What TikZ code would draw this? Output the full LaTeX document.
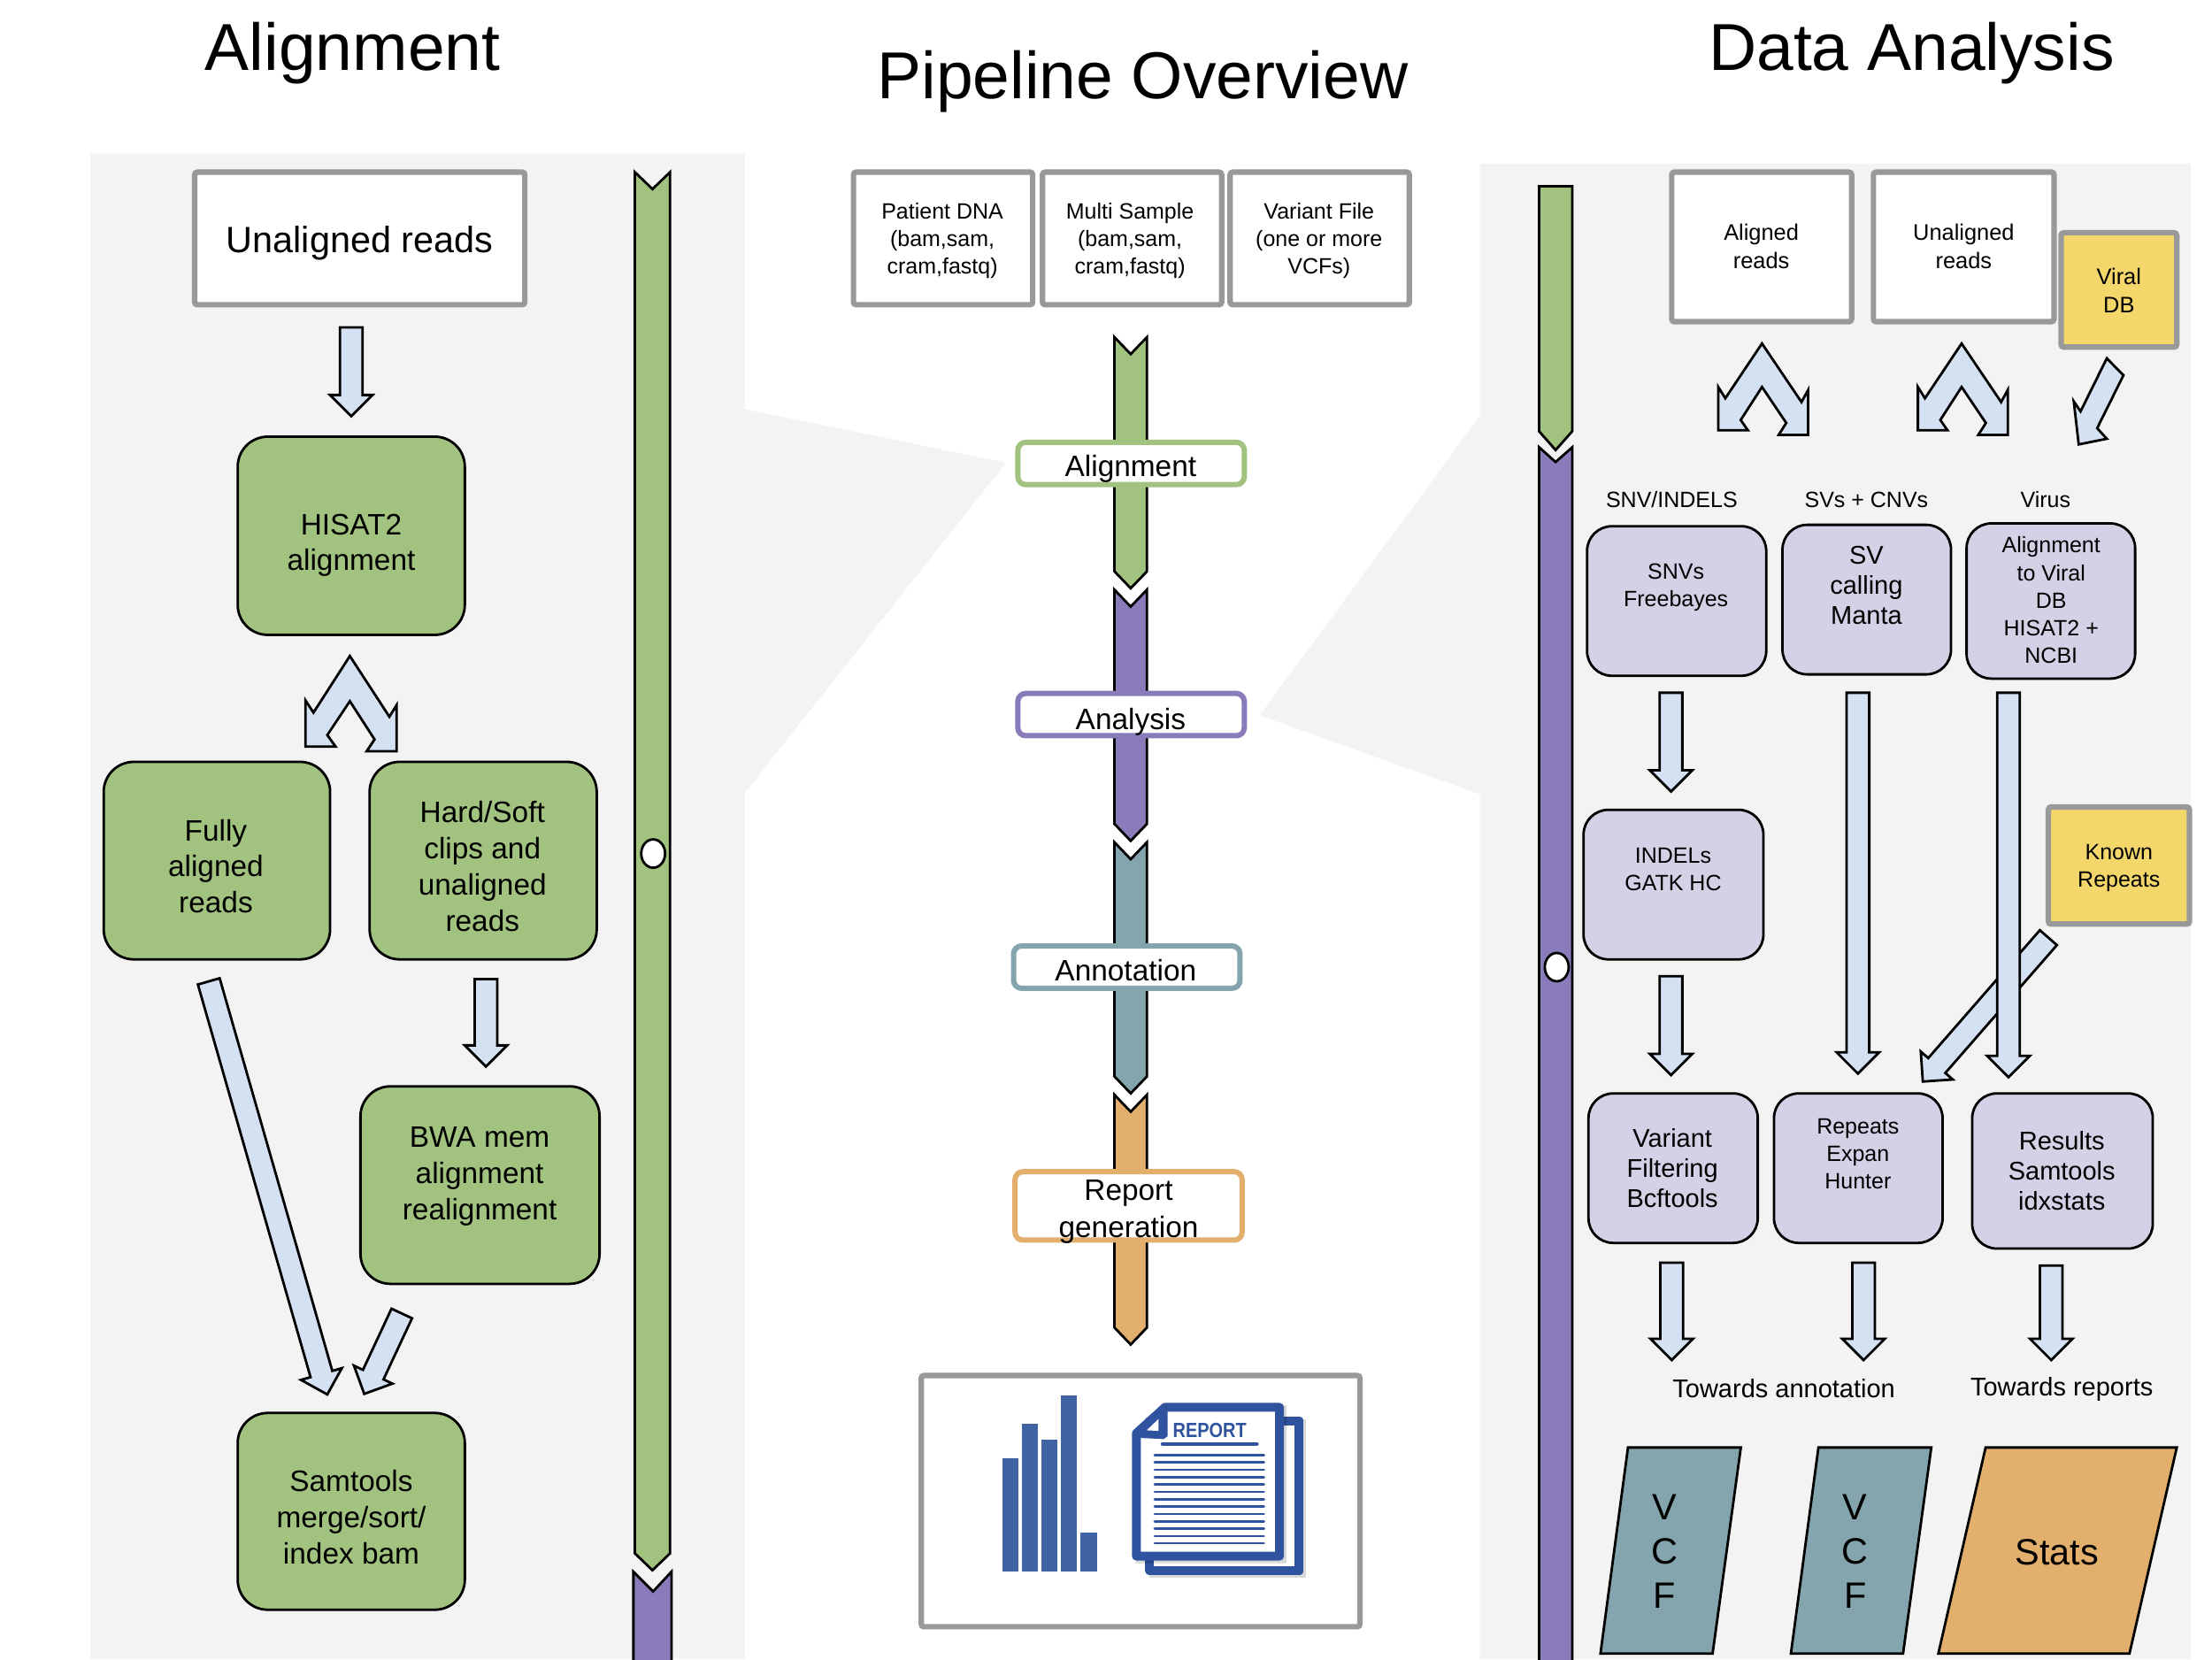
\documentclass[tikz,border=0pt]{standalone}
\usepackage{fontspec}
\usepackage{graphicx}
\setmainfont{Liberation Sans}
\usetikzlibrary{calc,shapes.geometric}
\definecolor{panelbg}{HTML}{F3F3F3}
\definecolor{cgreen}{HTML}{A2C37F}
\definecolor{cpurple}{HTML}{8A7CBB}
\definecolor{cteal}{HTML}{84A5AD}
\definecolor{corange}{HTML}{E3AF6D}
\definecolor{clilac}{HTML}{D5D0E6}
\definecolor{cblue}{HTML}{D4E1F3}
\definecolor{cyellow}{HTML}{F4D76B}
\definecolor{cgray}{HTML}{999999}
\definecolor{barblue}{HTML}{4063A3}
\definecolor{repblue}{HTML}{2F539E}
\tikzset{
  fbig/.style={font=\fontsize{20.7pt}{25pt}\selectfont},
  fmid/.style={font=\fontsize{16.7pt}{20.4pt}\selectfont},
  fsmall/.style={font=\fontsize{12.5pt}{15.6pt}\selectfont},
  fcap/.style={font=\fontsize{12.7pt}{16pt}\selectfont},
  fmed/.style={font=\fontsize{14.5pt}{17.1pt}\selectfont},
  fvcf/.style={font=\fontsize{20.7pt}{25pt}\selectfont},
  ftitle/.style={font=\fontsize{37.5pt}{45pt}\selectfont},
  txt/.style={inner sep=0pt,outer sep=0pt,align=center,text=black},
  shapebase/.style={rectangle,inner sep=0pt,outer sep=0pt},
  graybox/.style={shapebase,draw=cgray,line width=3.1pt,fill=white,rounded corners=1.5pt},
  yellowbox/.style={shapebase,draw=cgray,line width=3.1pt,fill=cyellow,rounded corners=1.5pt},
  greenbox/.style={shapebase,draw=black,line width=1.4pt,fill=cgreen,rounded corners=17pt},
  lilacbox/.style={shapebase,draw=black,line width=1.4pt,fill=clilac,rounded corners=14pt},
  labelbox/.style={shapebase,line width=3pt,fill=white,rounded corners=4.5pt},
  blockar/.style={draw=black,line width=1.4pt,fill=cblue,line join=miter},
  stripe/.style={draw=black,line width=1.4pt,line join=miter},
  para/.style={draw=black,line width=1.4pt,line join=miter},
}
% style, name, x1, y1, x2, y2, (text position), font style, text
\newcommand\bx[9]{%
  \pgfmathsetmacro\bxcx{(#3+#5)/2}%
  \pgfmathsetmacro\bxcy{(#4+#6)/2}%
  \pgfmathsetmacro\bxw{(#5-#3)*0.79719}%
  \pgfmathsetmacro\bxh{(#6-#4)*0.79719}%
  \node[#1,minimum width=\bxw pt,minimum height=\bxh pt] (#2) at (\bxcx,\bxcy) {};
  \node[txt,#8] (#2t) at #7 {#9};
}
\newcommand\blockarrow[2]{%
  \coordinate (ba) at ($(#2)!12pt!(#1)$);
  \draw[blockar] ($(#1)!6.4pt!90:(#2)$) -- ($(ba)!6.4pt!90:(#2)$) -- ($(ba)!12pt!90:(#2)$)
    -- (#2) -- ($(ba)!12pt!-90:(#2)$) -- ($(ba)!6.4pt!-90:(#2)$) -- ($(#1)!6.4pt!-90:(#2)$) -- cycle;
}
\newcommand\rightsplit[1]{%
  \draw[blockar,shift={(#1,0)}] (1249,243.5) -- (1277,285) -- (1281.7,276.4) -- (1281.7,308.3) -- (1260.8,308.3)
    -- (1266.2,299.8) -- (1249,274.3) -- (1233.9,297.7) -- (1239,305) -- (1218,305) -- (1218,274.3) -- (1223,282.3) -- cycle;
}
\begin{document}
\begin{tikzpicture}[x=0.79719pt,y=-0.79719pt]
\useasboundingbox (0,0) rectangle (1568,1176);
\fill[white] (0,0) rectangle (1568,1176);
% panels with wedges
\fill[panelbg] (64,109) -- (528,109) -- (528,290) -- (713,328) -- (528,562) -- (528,1176) -- (64,1176) -- cycle;
\fill[panelbg] (1049,116) -- (1553,116) -- (1553,1176) -- (1049,1176) -- (1049,563) -- (893,507) -- (1049,295) -- cycle;
% titles
\node[txt,ftitle] (t1) at (250,38) {Alignment};
\node[txt,ftitle] (t2) at (810,58) {Pipeline Overview};
\node[txt,ftitle] (t3) at (1355,38) {Data Analysis};

% ---- left column
\draw[stripe,fill=cgreen] (450,122) -- (462.5,134) -- (475,122) -- (475,1101) -- (462.5,1113) -- (450,1101) -- cycle;
\draw[stripe,fill=cpurple] (449,1114) -- (463,1128) -- (476,1114) -- (476,1180) -- (449,1180) -- cycle;
\node[ellipse,inner sep=0pt,outer sep=0pt,draw=black,line width=1.4pt,fill=white,minimum width=13.5pt,minimum height=16pt] (ldot) at (463,605) {};

\bx{graybox}{lunal}{138}{122}{372}{216}{(255,172.5)}{fbig}{Unaligned reads}
\bx{greenbox}{hisat}{168.5}{309.5}{329.5}{450}{(249,386.5)}{fmid}{HISAT2\\alignment}
\bx{greenbox}{fully}{73.5}{540}{234}{680}{(153,614)}{fmid}{Fully\\aligned\\reads}
\bx{greenbox}{hard}{262}{540}{423}{680}{(342,614)}{fmid}{Hard/Soft\\clips and\\unaligned\\reads}
\bx{greenbox}{bwa}{255.5}{770}{425}{910}{(340,834)}{fmid}{BWA mem\\alignment\\realignment}
\bx{greenbox}{samt}{168.5}{1001.5}{329.5}{1141}{(249,1075.5)}{fmid}{Samtools\\merge/sort/\\index bam}

\coordinate (a1s) at (249,232); \coordinate (a1e) at (249,295);
\blockarrow{a1s}{a1e}
\draw[blockar] (248,465) -- (276,508) -- (281.2,499.7) -- (281.2,532.5) -- (259.9,532.5) -- (265.5,524.1) -- (248,497)
  -- (232,521) -- (237.9,529.2) -- (216.6,529.2) -- (216.6,496.5) -- (222.2,505.1) -- cycle;
\coordinate (a2s) at (344.5,694); \coordinate (a2e) at (344.5,756);
\blockarrow{a2s}{a2e}
\coordinate (a3s) at (148,695.6); \coordinate (a3e) at (232,988.4);
\blockarrow{a3s}{a3e}
\coordinate (a4s) at (284.8,931); \coordinate (a4e) at (258.2,988);
\blockarrow{a4s}{a4e}

% ---- centre column
\bx{graybox}{cp}{605}{122}{732}{216}{(668,170.5)}{fsmall}{Patient DNA\\(bam,sam,\\cram,fastq)}
\bx{graybox}{cm}{739}{122}{866}{216}{(801,170.5)}{fsmall}{Multi Sample\\(bam,sam,\\cram,fastq)}
\bx{graybox}{cv}{872}{122}{999}{216}{(935,170.5)}{fsmall}{Variant File\\(one or more\\VCFs)}

\draw[stripe,fill=cgreen] (790,239) -- (801.5,251) -- (813,239) -- (813,405) -- (801.5,417) -- (790,405) -- cycle;
\draw[stripe,fill=cpurple] (790,418) -- (801.5,430) -- (813,418) -- (813,584) -- (801.5,596) -- (790,584) -- cycle;
\draw[stripe,fill=cteal] (790,597) -- (801.5,609) -- (813,597) -- (813,763) -- (801.5,775) -- (790,763) -- cycle;
\draw[stripe,fill=corange] (790,776) -- (801.5,788) -- (813,776) -- (813,941) -- (801.5,953) -- (790,941) -- cycle;

\bx{labelbox,draw=cgreen}{lal}{721.5}{313.5}{882}{343.5}{(801.5,332.5)}{fmid}{Alignment}
\bx{labelbox,draw=cpurple}{lan}{721.5}{491.5}{882}{521.5}{(801.5,512)}{fmid}{Analysis}
\bx{labelbox,draw=cteal}{lat}{718.5}{670.5}{879}{700.5}{(798,688)}{fmid}{Annotation}
\bx{labelbox,draw=corange}{lrp}{719.5}{830.5}{880.5}{879}{(800,859)}{fmid,font=\fontsize{16.7pt}{20.7pt}\selectfont}{Report\\generation}

\bx{graybox}{rep}{653}{975}{964}{1153}{(808,1063)}{fsmall}{}
% bar chart
\fill[barblue] (710.8,1033.9) rectangle (721.6,1114);
\fill[barblue] (724.5,1009.4) rectangle (735.5,1114);
\fill[barblue] (738,1020.3) rectangle (749.4,1114);
\fill[barblue] (752,989) rectangle (763,1114);
\fill[barblue] (766,1086) rectangle (777.5,1114);
% report icon
\fill[black,opacity=.15] (815,1006) rectangle (926,1118.5);
\draw[repblue,line width=5pt,line join=round,fill=white] (815,1007) rectangle (921,1113.5);
\fill[black,opacity=.15] (805,1016) -- (827,996) -- (912,996) -- (912,1108) -- (805,1108) -- cycle;
\draw[repblue,line width=5pt,line join=round,fill=white] (805.5,1016) -- (826,997.5) -- (907,997.5) -- (907,1103) -- (805.5,1103) -- cycle;
\fill[repblue,line join=round] (802.5,1014.8) -- (824.8,994.3) -- (827.7,1000) -- (827.7,1018) -- (824.8,1020) -- (804,1019) -- cycle;
\fill[white] (812.8,1013.8) -- (821.2,1005.8) -- (821.2,1014.2) -- cycle;
\node[txt,text=repblue,font=\bfseries\fontsize{11.6pt}{14pt}\selectfont] (reptxt) at (857.5,1014) {\scalebox{0.86}[1]{REPORT}};
\draw[repblue,line width=2pt,line cap=round] (824,1023.4) -- (891,1023.4);
\foreach \i in {0,...,12}{
  \draw[repblue,line width=1.3pt,line cap=round] (818.5,1031.4+\i*5.21) -- (896,1031.4+\i*5.21);
}

% ---- right column
\draw[stripe,fill=cgreen] (1091,132) -- (1114.5,132) -- (1114.5,305.7) -- (1102.7,319) -- (1091,305.7) -- cycle;
\draw[stripe,fill=cpurple] (1091,317) -- (1102.7,327.5) -- (1114.5,317) -- (1114.5,1180) -- (1091,1180) -- cycle;
\node[ellipse,inner sep=0pt,outer sep=0pt,draw=black,line width=1.4pt,fill=white,minimum width=13.5pt,minimum height=16pt] (rdot) at (1103.5,685.5) {};

\bx{graybox}{ralig}{1185}{122}{1312.5}{228}{(1248.5,174.5)}{fcap}{Aligned\\reads}
\bx{graybox}{runal}{1328}{122}{1456}{228}{(1392,174.5)}{fcap}{Unaligned\\reads}
\bx{yellowbox}{rvir}{1461}{165}{1543}{246}{(1502,206)}{fcap}{Viral\\DB}
\rightsplit{0}
\rightsplit{141.5}
\draw[blockar] (1493.4,254) -- (1505.2,266) -- (1486.6,303.5) -- (1493.4,311) -- (1473.5,315) -- (1470,284.5) -- (1474.8,291.6) -- cycle;

\node[txt,fsmall] (hsnv) at (1185,354) {SNV/INDELS};
\node[txt,fsmall] (hsv) at (1323,354) {SVs + CNVs};
\node[txt,fsmall] (hvir) at (1450,354) {Virus};

\bx{lilacbox}{snv}{1125}{373}{1252}{479}{(1188,416.5)}{fsmall}{SNVs\\Freebayes}
\bx{lilacbox}{sv}{1263.5}{372}{1383}{478}{(1323,415)}{fmed}{SV\\calling\\Manta}
\bx{lilacbox}{vira}{1394}{371}{1513.5}{481}{(1454,425.5)}{fsmall}{Alignment\\to Viral\\DB\\HISAT2 +\\NCBI}
\bx{lilacbox}{indel}{1122.5}{574}{1250}{680}{(1186,616)}{fsmall}{INDELs\\GATK HC}
\bx{yellowbox}{known}{1452}{572}{1552}{655}{(1502,615.5)}{fsmall}{Known\\Repeats}
\bx{lilacbox}{varf}{1126}{775}{1246}{881}{(1185.5,828)}{fmed}{Variant\\Filtering\\Bcftools}
\bx{lilacbox}{repe}{1257.5}{775}{1377}{881}{(1317,818)}{fsmall}{Repeats\\Expan\\Hunter}
\bx{lilacbox}{resu}{1398}{775}{1526}{885}{(1461.5,830)}{fmed}{Results\\Samtools\\idxstats}

\coordinate (r1s) at (1184.5,491); \coordinate (r1e) at (1184.5,561);
\blockarrow{r1s}{r1e}
\coordinate (r2s) at (1184.5,692); \coordinate (r2e) at (1184.5,762);
\blockarrow{r2s}{r2e}
\coordinate (r3s) at (1317,491); \coordinate (r3e) at (1317,761);
\blockarrow{r3s}{r3e}
\coordinate (r4s) at (1452,664.6); \coordinate (r4e) at (1363,766.6);
\blockarrow{r4s}{r4e}
\coordinate (r5s) at (1423.7,491); \coordinate (r5e) at (1423.7,763.5);
\blockarrow{r5s}{r5e}
\coordinate (r6s) at (1185,895); \coordinate (r6e) at (1185,964);
\blockarrow{r6s}{r6e}
\coordinate (r7s) at (1321,895); \coordinate (r7e) at (1321,964);
\blockarrow{r7s}{r7e}
\coordinate (r8s) at (1454,897); \coordinate (r8e) at (1454,964);
\blockarrow{r8s}{r8e}

\node[txt,fmed] (tann) at (1264.5,984) {Towards annotation};
\node[txt,fmed] (trep) at (1461.5,985) {Towards reports};

\draw[para,fill=cteal] (1154,1026) -- (1234,1026) -- (1214,1172) -- (1134.5,1172) -- cycle;
\draw[para,fill=cteal] (1289,1026) -- (1369,1026) -- (1349,1172) -- (1269.5,1172) -- cycle;
\draw[para,fill=corange] (1407.5,1026) -- (1543,1026) -- (1509.5,1172) -- (1374,1172) -- cycle;
\node[txt,fvcf] (v1) at (1180,1099.5) {V\\C\\F};
\node[txt,fvcf] (v2) at (1315,1099.5) {V\\C\\F};
\node[txt,fvcf] (st) at (1458,1100) {Stats};
\end{tikzpicture}
\end{document}
